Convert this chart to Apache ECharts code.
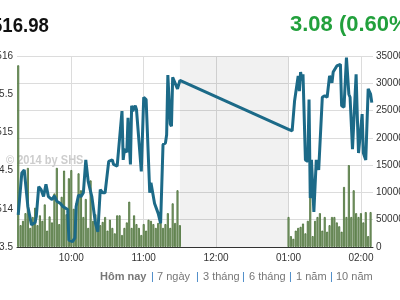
<!DOCTYPE html>
<html>
<head>
<meta charset="utf-8">
<script src="https://cdn.jsdelivr.net/npm/echarts@6/dist/echarts.min.js"></script>
<style>
html,body{margin:0;padding:0;background:#fff;}
#c{width:400px;height:300px;}
</style>
</head>
<body>
<div id="c"></div>
<script>
// ---- data ----
var priceTimes = ["09:16","09:19","09:21","09:24","09:27","09:30","09:31","09:33","09:35","09:37","09:39","09:41","09:44","09:46","09:48","09:51","09:53","09:57","09:58","10:01","10:03","10:04","10:06","10:08","10:10","10:12","10:14","10:15","10:17","10:20","10:22","10:24","10:26","10:28","10:31","10:34","10:35","10:38","10:39","10:42","10:43","10:44","10:46","10:47","10:48","10:49","10:50","10:51","10:53","10:54","10:58","11:00","11:02","11:05","11:06","11:07","11:09","11:10","11:12","11:14","11:16","11:18","11:19","11:20","11:22","11:23","11:24","11:25","11:28","11:30","13:00","13:03","13:05","13:08","13:09","13:10","13:11","13:12","13:14","13:16","13:17","13:18","13:19","13:21","13:23","13:25","13:28","13:30","13:32","13:34","13:36","13:37","13:40","13:43","13:44","13:46","13:48","13:50","13:51","13:53","13:56","13:57","13:58","14:01","14:02","14:04","14:06","14:08","14:09"];
var priceValues = [513.92,514.47,514.51,514.03,513.79,513.82,513.90,514.29,514.25,514.16,514.32,514.16,514.12,514.17,514.10,514.07,514.03,513.99,513.59,513.57,513.62,514.03,514.18,514.16,514.21,514.64,514.36,514.29,514.16,513.81,513.70,514.25,514.21,514.21,514.62,514.64,514.58,514.56,514.54,515.28,514.64,514.78,514.74,515.19,515.17,514.58,515.35,515.28,515.35,515.30,514.49,515.46,515.43,514.21,514.34,514.36,514.07,514.05,513.94,513.81,514.84,514.86,514.97,515.75,515.11,515.08,515.72,515.74,515.57,515.68,515.04,515.02,515.41,515.74,515.54,515.79,515.68,515.76,514.64,514.62,515.43,514.14,514.64,513.96,514.64,514.51,515.46,515.48,515.46,515.74,515.65,515.79,515.87,515.89,515.35,515.33,515.98,515.50,515.46,514.78,515.76,515.21,514.73,515.24,514.73,514.64,515.57,515.50,515.39];

var volTimes = ["09:16","09:18","09:20","09:22","09:24","09:26","09:28","09:30","09:32","09:34","09:36","09:38","09:40","09:42","09:44","09:46","09:48","09:50","09:52","09:54","09:56","09:58","10:00","10:02","10:04","10:06","10:08","10:10","10:12","10:14","10:16","10:18","10:20","10:22","10:24","10:26","10:28","10:30","10:32","10:34","10:36","10:38","10:40","10:42","10:44","10:46","10:48","10:50","10:52","10:54","10:56","10:58","11:00","11:02","11:04","11:06","11:08","11:10","11:12","11:14","11:16","11:18","11:20","11:22","11:24","11:26","11:28","11:30","13:00","13:02","13:04","13:06","13:08","13:10","13:12","13:14","13:16","13:18","13:20","13:22","13:24","13:26","13:28","13:30","13:32","13:34","13:36","13:38","13:40","13:42","13:44","13:46","13:48","13:50","13:52","13:54","13:56","13:58","14:00","14:02","14:04","14:06","14:08"];
var volValues = [333000,40000,48000,62000,145000,35000,55000,72000,40000,58000,48000,78000,30000,56000,45000,98000,145000,42000,92000,140000,60000,126000,141000,70000,80000,135000,104000,55000,88000,35000,122000,48000,60000,30000,40000,46000,55000,30000,50000,35000,25000,58000,58000,22000,35000,45000,83000,35000,58000,42000,35000,22000,42000,30000,50000,48000,42000,35000,44000,47000,35000,42000,62000,35000,80000,44000,104000,40000,55000,20000,15000,30000,35000,37000,43000,25000,48000,92000,20000,48000,55000,62000,30000,55000,28000,40000,55000,55000,45000,38000,28000,110000,55000,150000,55000,104000,62000,55000,62000,45000,64000,20000,64000];

var hourTicks = ["10:00","11:00","12:00","13:00","14:00"];
var lunchBreak = ["11:30","13:00"];
var priceTicks = [513.5, 514, 514.5, 515, 515.5, 516];
var lastPrice = "516.98";
var change = "3.08 (0.60%)";
var watermark = "\u00a9 2014 by SHS";
var periodLinks = ["H\u00f4m nay","7 ng\u00e0y","3 th\u00e1ng","6 th\u00e1ng","1 n\u0103m","10 n\u0103m"];

function toMin(s){ var p = s.split(":"); return (+p[0])*60 + (+p[1]); }
function fmtTime(v){ var h = Math.floor(v/60), m = v%60; var h12 = h>12 ? h-12 : h; return (h12<10?"0":"")+h12+":"+(m<10?"0":"")+m; }

var priceData = priceTimes.map(function(t,i){ return [toMin(t), priceValues[i]]; });
var volData = volTimes.map(function(t,i){ return [toMin(t), volValues[i]]; });
var tickMins = hourTicks.map(toMin);

var FONT = 'Arial, "Liberation Sans", sans-serif';
var chart = echarts.init(document.getElementById('c'), null, {renderer:'canvas'});

var linkX = [100, 157, 203, 249, 296, 336];
var sepX = [151, 196, 242, 289, 330];
var graphics = [
  {type:'text', x:-8, y:16, scaleX:0.93, style:{text:lastPrice, font:'bold 20px '+FONT, fill:'#111'}},
  {type:'text', x:290, y:14, style:{text:change, font:'bold 22px '+FONT, fill:'#22a03c'}},
  {type:'text', x:6, y:155, z:1, scaleX:0.92, style:{text:watermark, font:'bold 12px '+FONT, fill:'#cdcdcd'}}
];
periodLinks.forEach(function(t,i){
  graphics.push({type:'text', x:linkX[i], y:271, style:{text:t, font:(i===0?'bold ':'')+'11px '+FONT, fill:'#777'}});
});
sepX.forEach(function(x){
  graphics.push({type:'text', x:x, y:271, style:{text:'|', font:'11px '+FONT, fill:'#3d82c4'}});
});

chart.setOption({
  animation:false,
  backgroundColor:'#fff',
  grid:{left:17, right:27, top:56, bottom:53, containLabel:false, outerBoundsMode:'none'},
  graphic: graphics,
  xAxis:{
    type:'value', min:555, max:850,
    axisLine:{show:true, lineStyle:{color:'#333', width:1}},
    axisTick:{show:false, customValues: tickMins},
    axisLabel:{customValues: tickMins, formatter:fmtTime, fontSize:10, color:'#333', fontFamily:FONT, margin:6},
    splitLine:{show:true, lineStyle:{color:'#dcdcdc', width:1}}
  },
  yAxis:[
    {type:'value', min:priceTicks[0], max:priceTicks[priceTicks.length-1], interval:0.5, position:'left',
     axisLine:{show:false}, axisTick:{show:false}, splitLine:{show:false},
     axisLabel:{fontSize:10, color:'#333', fontFamily:FONT, margin:4, formatter:function(v){return String(v);}}},
    {type:'value', min:0, max:350000, interval:50000, position:'right',
     axisLine:{show:false}, axisTick:{show:false},
     splitLine:{show:true, lineStyle:{color:'#dcdcdc', width:1}},
     axisLabel:{fontSize:10, color:'#333', fontFamily:FONT, margin:3, formatter:function(v){return String(v);}}}
  ],
  series:[
    {type:'bar', yAxisIndex:1, data:volData, barWidth:2, z:2,
     itemStyle:{color:'#93a982', borderColor:'#456d32', borderWidth:0.8},
     markArea:{silent:true, itemStyle:{color:'rgba(0,0,0,0.055)'},
       data:[[{xAxis:toMin(lunchBreak[0])},{xAxis:toMin(lunchBreak[1])}]]}},
    {type:'line', yAxisIndex:0, data:priceData, showSymbol:false, symbol:'none', z:3,
     lineStyle:{color:'#1c6a88', width:3}}
  ]
});
</script>
</body>
</html>
